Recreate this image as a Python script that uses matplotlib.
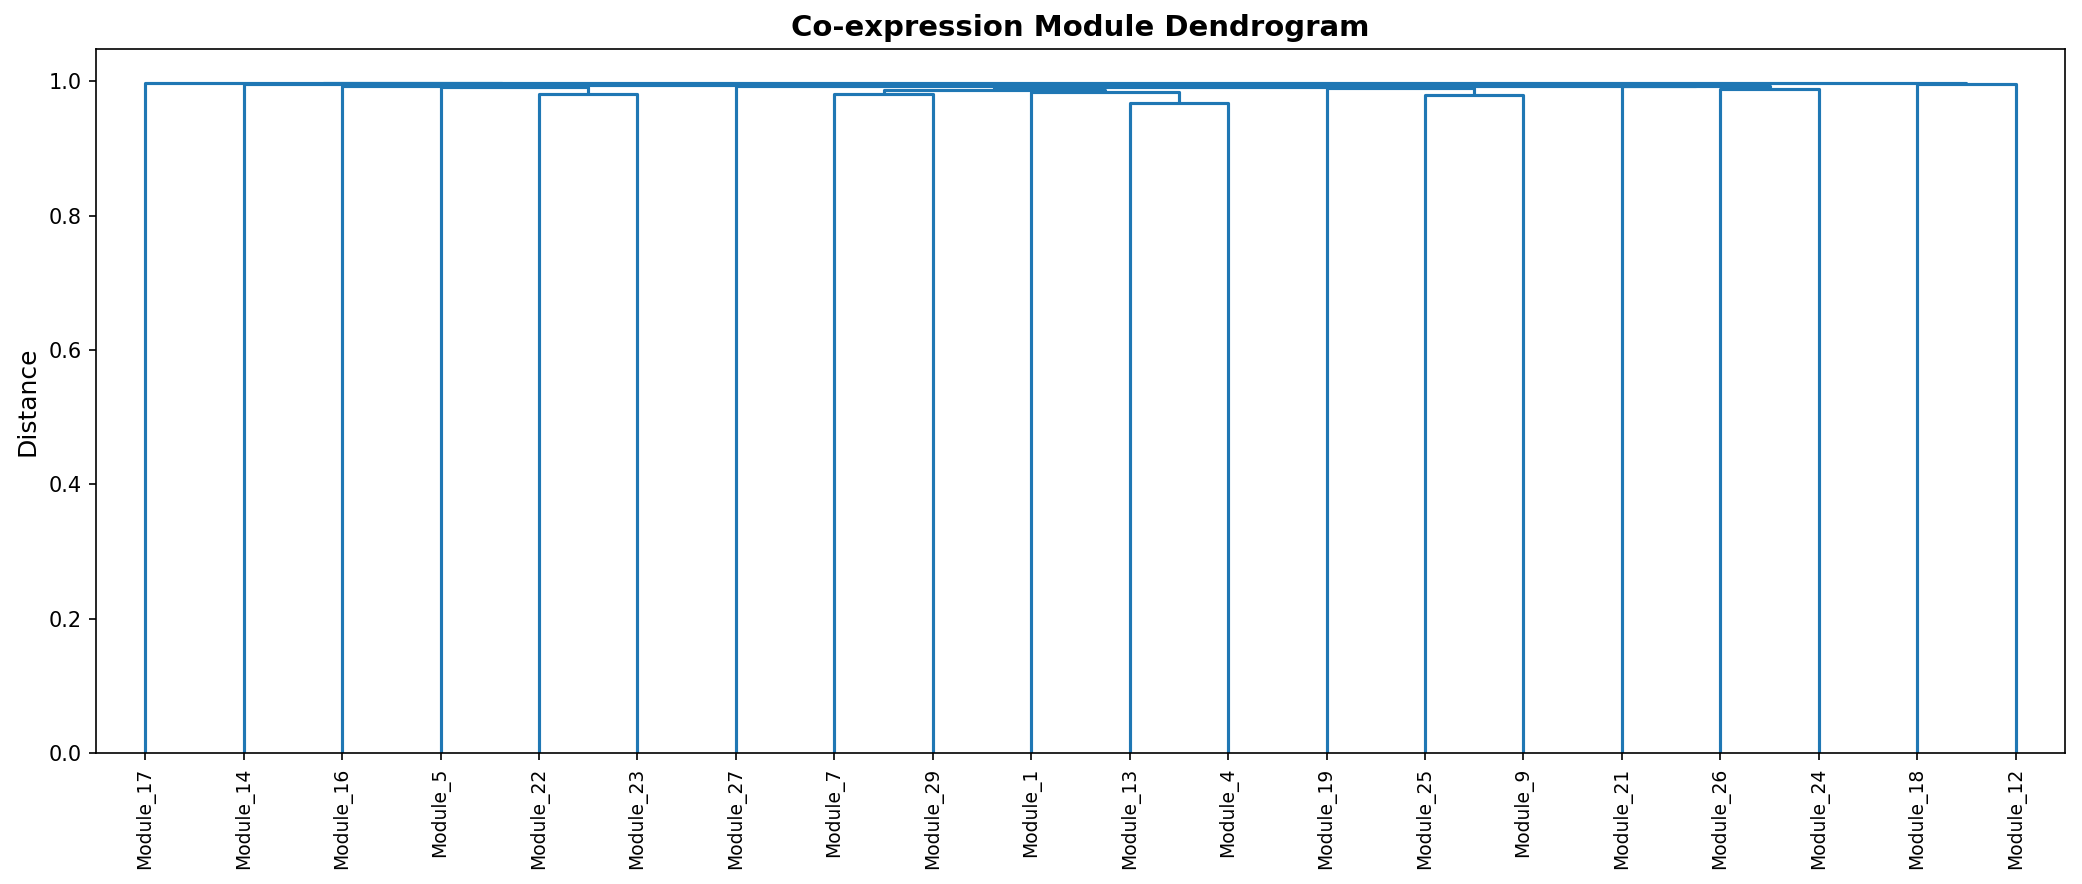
import matplotlib
matplotlib.use("Agg")
import matplotlib.pyplot as plt
from matplotlib.collections import LineCollection

# Leaf order (left to right) as drawn
leaf_labels = ["Module_17", "Module_14", "Module_16", "Module_5", "Module_22",
               "Module_23", "Module_27", "Module_7", "Module_29", "Module_1",
               "Module_13", "Module_4", "Module_19", "Module_25", "Module_9",
               "Module_21", "Module_26", "Module_24", "Module_18", "Module_12"]

# Merges: (left child, right child, height); children are leaf names or cluster names
merge_names = ["c22_23", "X", "A", "c7_29", "c13_4", "c1_13_4", "B", "c25_9", "C",
               "c26_24", "D", "BC", "BCD", "L4", "L3", "L2", "E", "L", "root"]
merge_left = ["Module_22", "Module_5", "Module_16", "Module_7", "Module_13", "Module_1",
              "c7_29", "Module_25", "Module_19", "Module_26", "Module_21", "B", "BC",
              "Module_27", "A", "Module_14", "Module_18", "Module_17", "L"]
merge_right = ["Module_23", "c22_23", "X", "Module_29", "Module_4", "c13_4",
               "c1_13_4", "Module_9", "c25_9", "Module_24", "c26_24", "C", "D",
               "BCD", "L4", "L3", "Module_12", "L2", "E"]
merge_height = [0.981, 0.9915, 0.993, 0.9805, 0.968, 0.9845, 0.987, 0.9795, 0.9905,
                0.988, 0.9925, 0.9912, 0.9930, 0.9935, 0.9945, 0.9955, 0.9955, 0.997, 0.998]

fig = plt.figure(figsize=(2082 / 150, 884 / 150), dpi=150)
ax = fig.add_axes([0.0461, 0.148, 0.9918 - 0.0461, 0.9446 - 0.148])

xpos = {name: 5 + 10 * i for i, name in enumerate(leaf_labels)}
ypos = {name: 0.0 for name in leaf_labels}
segs = []
for name, l, r, h in zip(merge_names, merge_left, merge_right, merge_height):
    xl, xr = xpos[l], xpos[r]
    segs.append([(xl, ypos[l]), (xl, h), (xr, h), (xr, ypos[r])])
    xpos[name] = (xl + xr) / 2
    ypos[name] = h

lc = LineCollection(segs, colors="C0", linewidths=1.5)
ax.add_collection(lc)

ax.set_xlim(0, 10 * len(leaf_labels))
ax.set_ylim(0, max(merge_height) * 1.05)
ax.set_xticks([5 + 10 * i for i in range(len(leaf_labels))])
ax.set_xticklabels(leaf_labels, rotation=90, fontsize=9)
ax.set_yticks([0.0, 0.2, 0.4, 0.6, 0.8, 1.0])
ax.tick_params(axis="y", labelsize=10)
ax.set_ylabel("Distance", fontsize=12)
ax.set_title("Co-expression Module Dendrogram", fontsize=14, fontweight="bold")

fig.savefig("out.png", dpi=150)
